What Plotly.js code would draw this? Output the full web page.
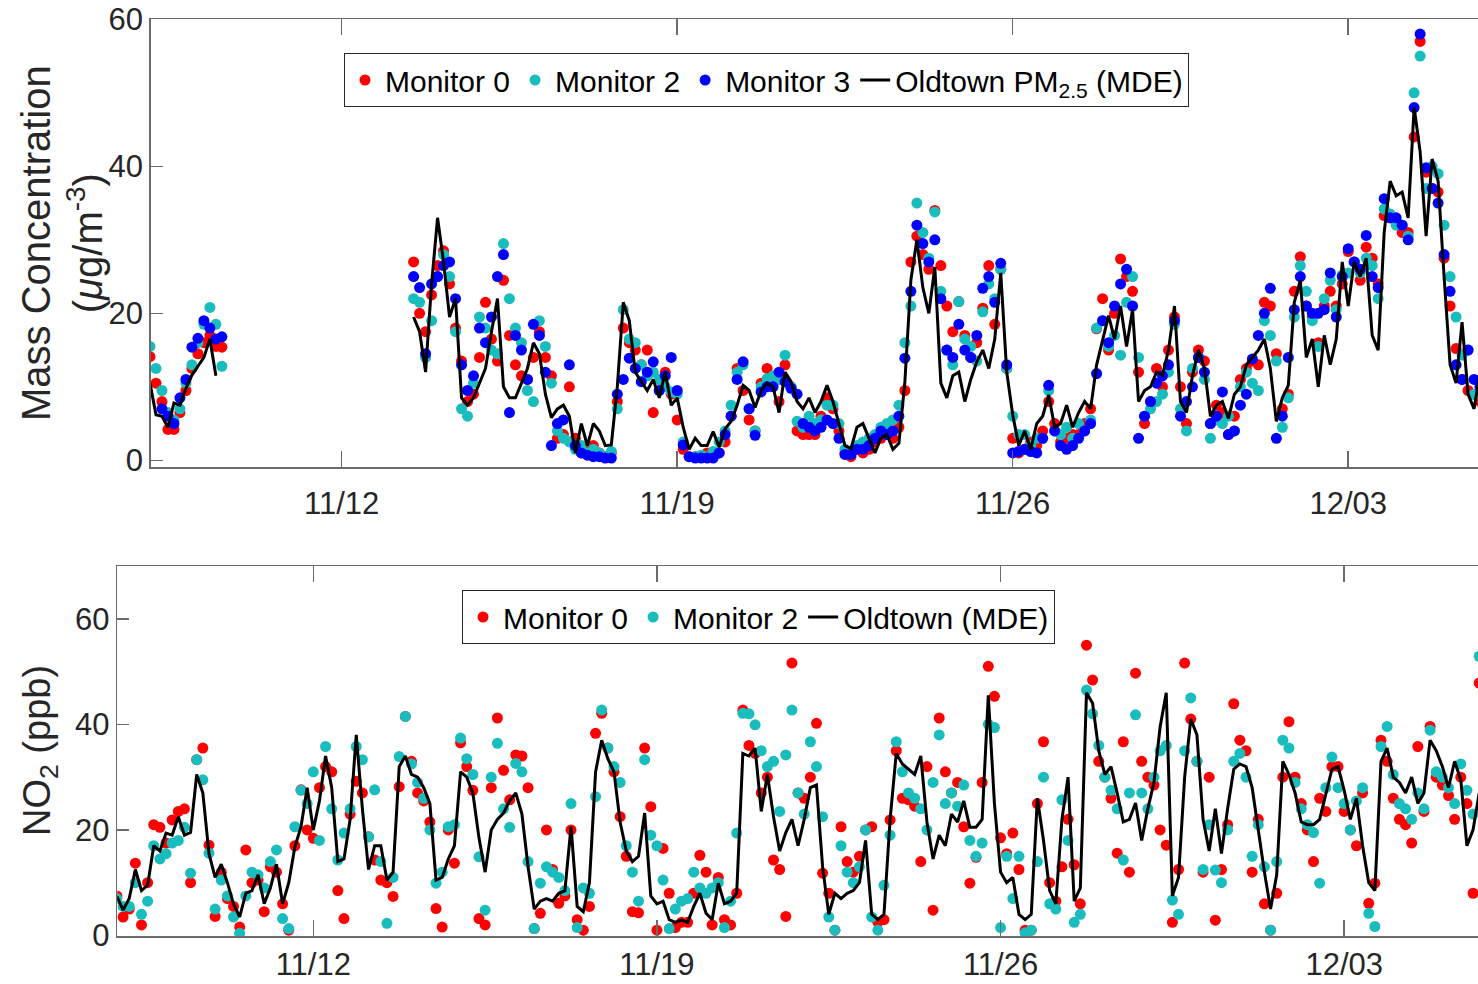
<!DOCTYPE html>
<html><head><meta charset="utf-8">
<script src="https://cdn.plot.ly/plotly-3.0.1.min.js"></script>
<style>html,body{margin:0;padding:0;overflow:hidden;background:#fff}#chart{width:1600px;height:984px}</style>
</head><body><div id="chart"></div>
<script>
// ---------- time grid ----------
const startDate = '2019-11-08';
const stepHours = 3;
const tickDates = ['2019-11-12', '2019-11-19', '2019-11-26', '2019-12-03'];
const tickLabels = ['11/12', '11/19', '11/26', '12/03'];
const nPoints = 223;

// ---------- PM2.5 (top panel), segment 1 starts at index 0 ----------
const pmSeg1Start = 0;
const pmLineSeg1 = [10.5, 6.2, 6.0, 4.5, 7.8, 7.5, 9.8, 11.6, 12.8, 14.0, 16.5, 11.5];
const pmMon0Seg1 = [14.1, 10.5, 8.0, 4.2, 4.2, 6.5, 9.5, 12.5, 14.5, 16.0, 17.0, 15.5, 15.4];
const pmMon2Seg1 = [15.5, 12.5, 9.5, 6.5, 5.5, 7.0, 10.5, 13.0, 16.0, 18.5, 20.8, 18.5, 12.8];
const pmMon3Seg1 = [null, null, 7.0, 6.0, 5.0, 8.5, 11.0, 15.4, 16.6, 19.0, 18.0, 16.5, 16.8];

// ---------- PM2.5 segment 2 starts at index 44 ----------
const pmSeg2Start = 44;
const pmLineSeg2 = [
 19.5, 17.5, 12, 24, 33, 27, 19.5, 22, 8.5, 7.5,
 8.5, 10.5, 12.5, 17.5, 22, 10, 8.5, 8.5, 10.5, 12.5,
 16, 14.5, 9, 5.8, 7, 7.5, 6, 1, 5, 2,
 5, 4, 2, 2.1, 10, 21.5, 19, 12, 10.7, 9.5,
 11, 8.5, 12, 7.5, 8.5, 4.5, 1.5, 3, 2, 2,
 3.9, 1.8, 4.3, 5.3, 7.5, 10.2, 9.5, 7.2, 9.5, 10.5,
 10, 6.5, 12, 10.7, 8, 7, 8.5, 6.5, 8, 10.2,
 8, 5, 2, 1.6, 4.5, 5, 3, 1, 3, 3.5,
 1.5, 2.3, 10.7, 24.5, 30, 23.5, 20, 26.3, 10.5, 8.5,
 11.5, 12, 8, 11, 13.4, 15, 12.5, 16.5, 25.5, 12,
 6.2, 2, 4, 1.5, 5, 6, 8.9, 4.5, 5, 7.5,
 4.5, 6.5, 8, 7, 13, 16.5, 19.7, 16.5, 21, 15.5,
 20.5, 8, 9.5, 10, 12, 11.6, 15, 21, 8, 6.5,
 11.5, 15, 12.5, 6, 7.5, 8, 5.7, 9, 10, 13,
 14, 15, 16.5, 12.5, 5.3, 8.5, 10.2, 21.5, 24.5, 14,
 16.5, 10, 17, 13, 16.5, 27, 21, 27, 25, 27.5,
 17, 15, 31, 38, 36, 36.5, 33, 48, 42, 30.5,
 41, 38, 25, 13, 10.5, 18.8, 9, 7, 12];
const pmMon0Seg2 = [
 27, 20, 17.5, 22.5, 26.5, 28.5, 24, 18, 13.5, 8,
 9, 14, 21.5, 16.5, 13.5, 24.5, 17, 13, 11.5, 11,
 14, 17.5, 14, 11.5, 3, 3.5, 10, 3, 1, 1.5,
 2, 1, 0.5, 1, 8, 18, 16, 15, 13, 15,
 6.5, 11, 12, 9, 5.5, 1.5, 0.5, 0.5, 0.5, 1,
 0.5, 1, 2.5, 6, 12.5, 9.5, 5.5, 4, 10.5, 12.5,
 11, 8, 13, 10, 4, 3.5, 3.5, 3.5, 6, 8.5,
 7, 4, 1, 0.5, 1.5, 1, 1.5, 2.5, 3, 4,
 3, 4.5, 9.5, 27, 30.5, 28, 26, 34, 26.5, 21,
 17.5, 21.6, 17, 14, 16, 20.7, 26.5, 18.5, 26, 12.5,
 3, 1, 1.5, 2.5, 2, 4, 8, 5, 2.5, 3,
 3.5, 3.5, 5, 7, 17.9, 22, 15, 20, 27.4, 25,
 23, 12, 5, 8, 12.5, 10, 15, 19.5, 10, 5,
 12, 15, 13.5, 5, 7.5, 6.5, 3.5, 6, 11, 12.5,
 13.5, 13, 21.5, 21, 14.5, 7, 9, 23, 27.7, 21,
 19.5, 16, 21, 23, 21, 24, 28.4, 27, 24.5, 29,
 27.5, 24, 33.3, 33, 32.5, 31, 31, 44, 57, 39.2,
 37, 36.5, 27.5, 21, 15.2, 11, 9.5, 9, 8];
const pmMon2Seg2 = [
 22, 21.5, 14, 19, 25, 28, 25, 17.5, 7, 6,
 10.5, 19.5, 18, 15, 14.5, 29.5, 22, 18, 16, 9.5,
 8, 19, 15.5, 10.5, 4, 3, 2.5, 1.5, 2, 1,
 1.5, 1, 0.5, 1.2, 7, 20.5, 16.5, 16, 13, 11.5,
 12, 11, 10, 9.3, 9, 2.5, 0.5, 0.5, 0.7, 0.5,
 1.2, 2.5, 4, 7.5, 12, 13, 7, 4, 10, 11.1,
 11.5, 11, 14.3, 10, 5.3, 4.5, 6, 5, 5.5, 7.5,
 7.5, 5, 1.5, 1, 2, 2.5, 3, 3.5, 4.5, 5,
 5.5, 7.5, 16, 21, 35, 31, 27.5, 33.8, 23, 15,
 13, 21.6, 16.5, 15.5, 13.5, 20.2, 24, 22, 26, 12.5,
 6, 3.5, 3.5, 2, 3, 3, 9.5, 4, 3.5, 4.5,
 3, 5, 4, 5.5, 18, 19, 15.5, 17, 14.3, 21.5,
 25, 14, 6, 7, 8, 9, 12, 18.5, 7, 4,
 12.5, 14, 11, 3, 5.5, 5, 6, 4, 10, 12,
 10.5, 9.5, 19, 17, 13.5, 4.5, 8.5, 19.5, 26.5, 23,
 19, 15.5, 22, 24.5, 20.5, 25.2, 25.5, 27, 25.5, 27.5,
 26.5, 22, 34.2, 33.5, 32, 32, 30.5, 50, 55, 37,
 40, 39, 32, 25, 19.5, 14.3, 15, 9, 10];
const pmMon3Seg2 = [
 25, 23.5, 14.5, 24, 25, 26.5, 27, 22, 13, 9.5,
 11.5, 18, 16, 19.5, 25, 28, 6.5, 17, 15, 11,
 18.5, 17, 12, 2, 5, 5.5, 13, 2, 1, 0.7,
 0.5, 0.5, 0.3, 0.3, 9, 11, 13.9, 12.5, 10.7, 12,
 13.4, 9.5, 11.5, 14, 9.5, 2.1, 0.5, 0.3, 0.3, 0.3,
 0.3, 1, 3.5, 6, 11, 13.4, 7, 3.4, 9.3, 10,
 10, 12, 10.7, 9.8, 9, 5, 4.5, 4, 4.5, 5.5,
 5, 3, 0.8, 0.8, 1.5, 1.5, 2, 3, 4, 3.5,
 4, 6, 13.9, 23, 32, 29.5, 27, 30, 22, 15,
 14, 18.5, 15, 14, 17, 23.4, 25, 21.5, 26.8, 13,
 1, 1.2, 1.5, 1.2, 1, 3, 10.2, 4, 2, 1.5,
 2, 3, 4, 5, 11.8, 19, 16, 21, 24, 26,
 21, 3, 6, 8, 10.5, 11.5, 13, 19, 6, 8,
 10, 14, 12, 5, 6, 9.3, 3.5, 4, 7.5, 9,
 13.8, 17, 20, 23.4, 3, 6, 14, 20.5, 25, 21,
 20, 20, 20.5, 25.5, 19.5, 25, 28.8, 27, 26, 30.6,
 25, 23.5, 35.6, 33, 33, 32, 30, 48, 58, 39.8,
 37, 35, 28, 23, 13, 11, 15, 11, 10];

// ---------- NO2 (bottom panel), index 0 .. 222 ----------
const no2Line = [
 7.4, 4.8, 7, 12.5, 8.5, 9.5, 17, 16, 19.4, 19,
 22.5, 19, 19.5, 30.5, 27, 15.5, 11, 13.5, 10, 6,
 3.5, 8, 8.5, 11.5, 6, 9, 13.5, 6, 10, 16.8,
 20.6, 28, 20, 25.5, 34, 28, 14, 14.5, 22, 38,
 24, 12.5, 17, 17, 10.5, 12, 32, 34, 30.5, 30,
 28, 25, 10.5, 11, 14.5, 17, 31, 30, 27, 18.5,
 12, 20, 22, 23.2, 25.5, 27, 23, 13, 5, 6.5,
 7, 6.5, 8, 8.5, 20.6, 5.5, 4.5, 10, 31, 37,
 33.5, 31, 21.5, 16, 14, 15, 23.2, 7.5, 6, 6.5,
 3, 2.5, 2.9, 2.5, 5.5, 8, 4.2, 3, 9.9, 6,
 6.5, 8, 34.5, 34, 35.5, 23.5, 30.5, 22.5, 16, 19.5,
 22, 17, 22, 28, 28.5, 13, 4, 8, 7, 8,
 8.5, 10, 18, 4, 3, 4, 22, 34.5, 32.5, 31.5,
 30.5, 34, 21.5, 14.5, 19, 17, 23, 21.5, 25.5, 20.5,
 20.5, 22, 45.5, 25, 12, 10, 11, 4, 3, 4,
 26, 18, 8.5, 6, 22, 30, 6.5, 9, 46, 44,
 35, 30.5, 32, 27, 21.5, 22, 25.1, 18, 24, 29,
 39.5, 46, 7.5, 11, 30, 41, 38, 22, 16, 24,
 15.5, 24, 31.5, 32.5, 32, 28, 19.5, 12, 5, 11.5,
 33, 30.5, 27, 21.5, 21, 21, 22, 27, 31.5, 32,
 27.5, 22, 26, 17, 10, 8.5, 33, 35.5, 30, 29,
 27, 30, 25, 27, 37, 35, 32, 28, 33, 29.5,
 17, 20, 27];
const no2Mon0 = [
 7.5, 3.5, 5, 13.7, 2, 10, 21, 20.5, 17.5, 21.9,
 23.5, 24, 10, 33.3, 35.5, 17.1, 3.6, 12, 7, 5.5,
 1.6, 16.2, 10, 10.5, 4.5, 13, 12, 6, 1, 17,
 27.6, 20, 18.4, 28, 32, 31, 8.5, 3.2, 23, 29.2,
 27, 18.7, 14.3, 10.5, 10, 7.4, 28.2, 41.5, 33, 27,
 25.5, 21.5, 5.1, 1.6, 20, 13.7, 36.5, 32, 27.5, 3.2,
 2, 28, 41.2, 31.3, 25.7, 34.2, 34, 28, 1.3, 4.2,
 20, 12.5, 6.1, 7.5, 20, 3, 1, 5.5, 38.3, 42.1,
 35.5, 31, 22.5, 15, 4.5, 4.3, 35.5, 24.4, 1, 16.5,
 8, 1.5, 2.5, 2.5, 8, 15.2, 12, 2, 11, 3,
 2, 8, 42.7, 36, 34.5, 27, 30, 14.3, 12.5, 3.6,
 51.6, 27, 26, 30, 40.2, 11.8, 8, 1, 20.6, 14,
 12, 15, 20, 20.6, 2.5, 3, 21.9, 35, 26, 25.7,
 24.5, 14, 32, 4.8, 41.2, 31, 27, 29, 20.6, 9.9,
 14.8, 29, 51, 45.3, 18.5, 15.5, 19.4, 12.5, 1, 1,
 25, 36.7, 10, 6.5, 13, 22, 13.4, 6, 55, 48.4,
 33, 30, 26, 15.6, 36.7, 12, 49.7, 33, 30, 28.5,
 20, 17.1, 2.5, 12.5, 51.6, 41, 33, 12, 30, 2.9,
 12.5, 21, 43.9, 37, 35, 12, 22, 6, 1, 8,
 30, 40.5, 30, 25, 20, 14, 26, 23.5, 32, 32,
 23.5, 20, 17, 27, 6.1, 9.9, 37, 33, 26, 22,
 21, 17.5, 35.8, 23.5, 39.6, 30, 28.5, 26.5, 22, 30,
 25, 8, 47.8];
const no2Mon2 = [
 7, 5.5, 5.5, 10, 4, 6.5, 17, 14.5, 15.5, 17.5,
 18, 20.5, 11.8, 33.3, 29.5, 15.6, 5, 10.5, 7.5, 3.5,
 0.4, 7.5, 12, 11.5, 9, 14, 16.2, 3.2, 1.3, 20.6,
 27.5, 25, 31, 18, 35.8, 24, 14.3, 19.4, 24, 35.8,
 33.3, 18.7, 27.6, 14, 2.3, 11, 33.9, 41.5, 32.5, 29,
 26, 20, 9.9, 12, 20.6, 21, 37.4, 33.5, 30.5, 14.9,
 4.8, 30, 36.4, 24, 20.5, 32.6, 31, 14, 1.3, 9.9,
 13, 12, 11, 8.5, 25, 1.5, 9, 8, 26.3, 42.7,
 35.5, 32, 29, 17, 12, 6.5, 33.3, 19, 17, 10.5,
 1.3, 5, 6.5, 7, 12, 9, 8, 9, 10, 1.5,
 6.5, 19.4, 42.1, 42, 39.9, 35, 32, 33, 23.5, 34.2,
 42.7, 27, 23, 36.7, 32, 22.5, 3.5, 1, 17, 12,
 10, 13, 20, 3.5, 1, 9.5, 19, 36.7, 31, 27,
 26, 24, 20, 29, 38, 25, 27, 24.5, 28.5, 18,
 15, 17.5, 40, 39.4, 1.5, 15, 7, 15, 0.5, 1,
 14, 30, 6, 5, 25.7, 18, 2.5, 4, 46.5, 42,
 36, 30, 27.5, 24, 14.3, 27, 41.8, 27, 24, 30,
 35, 36, 6.7, 4, 35, 45, 33, 12.5, 21, 12.4,
 10, 20, 33, 34.5, 30, 15, 21, 13, 1, 14,
 37, 35.5, 29, 24, 21, 19.5, 9.9, 28, 33.8, 28,
 25, 20, 25.5, 28, 4.2, 1.7, 35.8, 39.6, 30.5, 25,
 24, 22, 27, 24, 38.9, 31, 30, 28, 25, 32.5,
 27.5, 23, 52.9];

// ---------- helpers ----------
function timeAt(i) {
  const ms = Date.parse(startDate + 'T00:00:00Z') + i * stepHours * 3600e3;
  return new Date(ms).toISOString().slice(0, 19).replace('T', ' ');
}
function shiftDays(dateStr, days) {
  const ms = Date.parse(dateStr + 'T00:00:00Z') + days * 86400e3;
  return new Date(ms).toISOString().slice(0, 19).replace('T', ' ');
}
function placeSegments(segs) {
  const out = new Array(nPoints).fill(null);
  segs.forEach(([start, vals]) => vals.forEach((v, k) => { out[start + k] = v; }));
  return out;
}
const times = Array.from({length: nPoints}, (_, i) => timeAt(i));

const pmLine = placeSegments([[pmSeg1Start, pmLineSeg1], [pmSeg2Start, pmLineSeg2]]);
const pmMon0 = placeSegments([[pmSeg1Start, pmMon0Seg1], [pmSeg2Start, pmMon0Seg2]]);
const pmMon2 = placeSegments([[pmSeg1Start, pmMon2Seg1], [pmSeg2Start, pmMon2Seg2]]);
const pmMon3 = placeSegments([[pmSeg1Start, pmMon3Seg1], [pmSeg2Start, pmMon3Seg2]]);

// ---------- styling ----------
const W = 1600, H = 984;
const FONT = '"Liberation Sans", Arial, Helvetica, sans-serif';
const RED = '#ff0000', TEAL = '#1abdbd', BLUE = '#0000ff';
const MS = 11;

const topPx = {left: 150.7, right: 1560, top: 19, bottom: 467.3, tick0: 341.7, perDay: 47.93};
const botPx = {left: 117.3, right: 1560, top: 566, bottom: 936, tick0: 313.3, perDay: 49.09};

function xRange(p) {
  return [shiftDays(tickDates[0], (p.left - p.tick0) / p.perDay),
          shiftDays(tickDates[0], (p.right - p.tick0) / p.perDay)];
}

const axisBase = {
  showline: true, linecolor: '#6b6b6b', linewidth: 1.5, mirror: 'ticks',
  ticks: 'inside', tickcolor: '#6b6b6b', tickwidth: 1.5,
  showgrid: false, zeroline: false,
  tickfont: {family: FONT, size: 31, color: '#262626'}
};

const traces = [
  {x: times, y: pmMon0, type: 'scatter', mode: 'markers', name: 'Monitor 0',
   marker: {color: RED, size: MS}, xaxis: 'x', yaxis: 'y', legend: 'legend'},
  {x: times, y: pmMon2, type: 'scatter', mode: 'markers', name: 'Monitor 2',
   marker: {color: TEAL, size: MS}, xaxis: 'x', yaxis: 'y', legend: 'legend'},
  {x: times, y: pmMon3, type: 'scatter', mode: 'markers', name: 'Monitor 3',
   marker: {color: BLUE, size: MS}, xaxis: 'x', yaxis: 'y', legend: 'legend'},
  {x: times, y: pmLine, type: 'scatter', mode: 'lines', name: 'Oldtown PM<sub>2.5</sub> (MDE)',
   line: {color: '#000', width: 3}, connectgaps: false, xaxis: 'x', yaxis: 'y', legend: 'legend'},

  {x: times, y: no2Mon0, type: 'scatter', mode: 'markers', name: 'Monitor 0',
   marker: {color: RED, size: MS}, xaxis: 'x2', yaxis: 'y2', legend: 'legend2'},
  {x: times, y: no2Mon2, type: 'scatter', mode: 'markers', name: 'Monitor 2',
   marker: {color: TEAL, size: MS}, xaxis: 'x2', yaxis: 'y2', legend: 'legend2'},
  {x: times, y: no2Line, type: 'scatter', mode: 'lines', name: 'Oldtown (MDE)',
   line: {color: '#000', width: 3}, xaxis: 'x2', yaxis: 'y2', legend: 'legend2'}
];

const legendBase = {
  orientation: 'h', xanchor: 'left', yanchor: 'top', bgcolor: '#ffffff',
  bordercolor: '#262626', borderwidth: 1,
  font: {family: FONT, size: 30, color: '#000'}
};

const layout = {
  width: W, height: H, autosize: false,
  margin: {l: 0, r: 0, t: 0, b: 0, pad: 0},
  paper_bgcolor: '#fff', plot_bgcolor: '#fff',
  showlegend: true,
  xaxis: Object.assign({}, axisBase, {
    type: 'date', anchor: 'y', domain: [topPx.left / W, topPx.right / W],
    range: xRange(topPx), tickvals: tickDates, ticktext: tickLabels, ticklen: 16,
    ticklabelstandoff: 8
  }),
  yaxis: Object.assign({}, axisBase, {
    anchor: 'x', domain: [1 - topPx.bottom / H, 1 - topPx.top / H],
    range: [-0.95, 60.05], tickvals: [0, 20, 40, 60], ticklen: 12
  }),
  xaxis2: Object.assign({}, axisBase, {
    type: 'date', anchor: 'y2', domain: [botPx.left / W, botPx.right / W],
    range: xRange(botPx), tickvals: tickDates, ticktext: tickLabels, ticklen: 16,
    ticklabelstandoff: 0
  }),
  yaxis2: Object.assign({}, axisBase, {
    anchor: 'x2', domain: [1 - botPx.bottom / H, 1 - botPx.top / H],
    range: [-0.1, 70], tickvals: [0, 20, 40, 60], ticklen: 12
  }),
  legend: Object.assign({}, legendBase, {x: 344 / W, y: 1 - 53 / H}),
  legend2: Object.assign({}, legendBase, {x: 462 / W, y: 1 - 590 / H}),
  annotations: [
    {text: 'Mass Concentration<br>(<i>μ</i>g/m<sup>-3</sup>)', xref: 'paper', yref: 'paper',
     x: 62 / W, y: 1 - 243 / H, xanchor: 'center', yanchor: 'middle', textangle: -90,
     showarrow: false, font: {family: FONT, size: 40, color: '#262626'}},
    {text: 'NO<sub>2</sub> (ppb)', xref: 'paper', yref: 'paper',
     x: 40 / W, y: 1 - 751 / H, xanchor: 'center', yanchor: 'middle', textangle: -90,
     showarrow: false, font: {family: FONT, size: 38, color: '#262626'}}
  ]
};

Plotly.newPlot('chart', traces, layout, {staticPlot: true, displayModeBar: false});
</script>
</body></html>
